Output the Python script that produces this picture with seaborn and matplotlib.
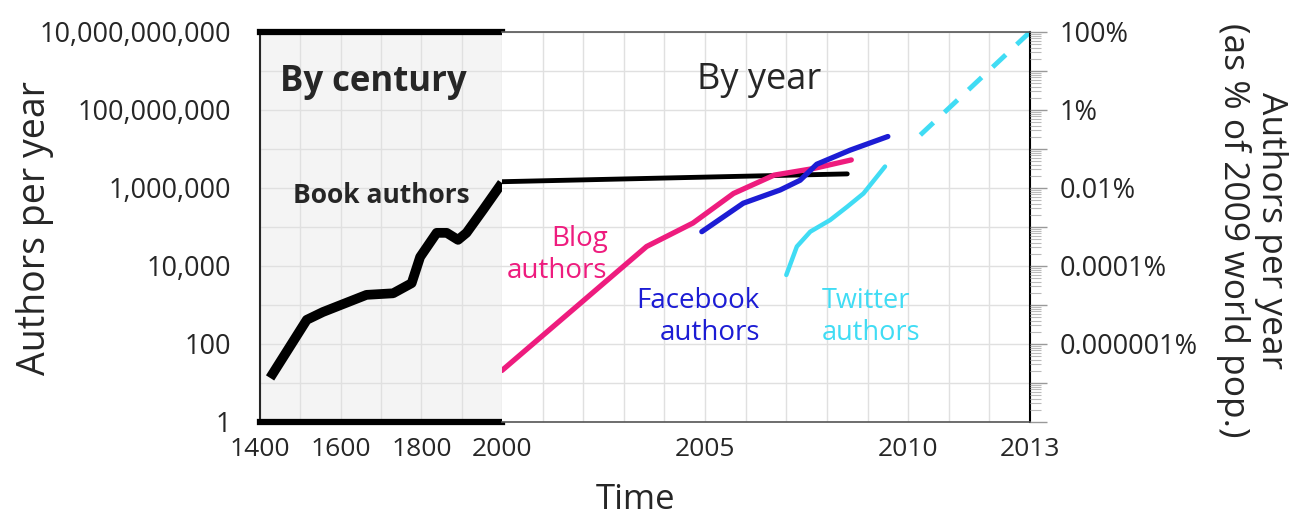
import numpy as np
import pandas as pd
import seaborn as sns
import matplotlib
matplotlib.use("Agg")
import matplotlib.pyplot as plt
from matplotlib.ticker import LogLocator, FuncFormatter, NullFormatter

# book authors, by century (left panel)
book_century_years = [1425, 1516, 1556, 1664, 1730, 1776, 1797, 1838, 1863, 1891, 1912, 1953, 2000]
book_century_vals = [13.5, 417, 661, 1820, 1995, 3630, 17000, 70800, 70800, 46800, 70800, 275000, 1350000]

# by year (right panel)
book_years = [2000, 2008.5]
book_vals = [1.45e6, 2.3e6]

blog_years = [2000.0, 2003.56, 2004.7, 2005.7, 2006.7, 2007.67, 2008.6]
blog_vals = [21, 31600, 126000, 724000, 2.14e6, 3.16e6, 5.25e6]

facebook_years = [2004.92, 2005.94, 2006.85, 2007.34, 2007.75, 2008.57, 2009.5]
facebook_vals = [75900, 407000, 891000, 1.58e6, 4.07e6, 9.33e6, 2.09e7]

twitter_years = [2007.0, 2007.26, 2007.59, 2008.08, 2008.5, 2008.9, 2009.23, 2009.43]
twitter_vals = [5890, 31600, 75900, 151000, 331000, 724000, 1.95e6, 3.55e6]

twitter_proj_years = [2010.3, 2013]
twitter_proj_vals = [2.29e7, 1e10]

left_xticks = [1400, 1500, 1600, 1700, 1800, 1900, 2000]
left_xlabels = ["1400", "", "1600", "", "1800", "", "2000"]
right_xticks = list(range(2001, 2014))
right_xlabels = ["2005" if y == 2005 else "2010" if y == 2010 else "2013" if y == 2013 else "" for y in right_xticks]
pct_ticks = [100, 1, 0.01, 1e-4, 1e-6]
pct_labels = ["100%", "1%", "0.01%", "0.0001%", "0.000001%"]

PINK = "#ee1c7e"
BLUE = "#1c1cd4"
CYAN = "#40dcf4"
GRID = "#e0e0e0"

sns.set_theme(style="white")
plt.rcParams["font.family"] = ["Open Sans", "DejaVu Sans"]

fig, (axl, axr) = plt.subplots(1, 2, sharey=True, figsize=(12.91, 5.2), dpi=100,
                               gridspec_kw={"width_ratios": [242, 528]})
fig.subplots_adjust(left=260 / 1291, right=1030 / 1291, bottom=98 / 520, top=488 / 520, wspace=0)

for ax in (axl, axr):
    ax.set_yscale("log")
    ax.set_ylim(1, 1e10)
    ax.grid(True, which="major", color=GRID, lw=1)
    ax.set_axisbelow(True)

axl.set_facecolor("#f4f4f4")
axl.set_xlim(1400, 2000)
axr.set_xlim(2000, 2013)

# lines
df = pd.DataFrame({"year": book_century_years, "authors": book_century_vals})
sns.lineplot(data=df, x="year", y="authors", ax=axl, color="black", lw=7,
             solid_capstyle="butt", solid_joinstyle="round")

sns.lineplot(x=book_years, y=book_vals, ax=axr, color="black", lw=3.5)
sns.lineplot(x=blog_years, y=blog_vals, ax=axr, color=PINK, lw=3.8)
sns.lineplot(x=facebook_years, y=facebook_vals, ax=axr, color=BLUE, lw=3.8)
sns.lineplot(x=twitter_years, y=twitter_vals, ax=axr, color=CYAN, lw=3.2)
sns.lineplot(x=twitter_proj_years, y=twitter_proj_vals, ax=axr, color=CYAN, lw=3.5,
             dashes=False, linestyle=(0, (3.7, 3.1)))

# y axis (left)
axl.yaxis.set_major_locator(LogLocator(base=10, numticks=20))
axl.yaxis.set_minor_locator(LogLocator(base=10, subs=np.arange(2, 10), numticks=100))
axl.yaxis.set_major_formatter(FuncFormatter(
    lambda v, p: f"{int(round(v)):,}" if round(np.log10(v)) % 2 == 0 else ""))
axl.yaxis.set_minor_formatter(NullFormatter())
axl.tick_params(axis="y", which="major", length=12, width=1, color="#999999", labelsize=19.5, pad=9)
axl.tick_params(axis="y", which="minor", length=8, width=0.8, color="#bbbbbb")
axr.tick_params(axis="y", which="both", left=False, length=0)

# x axes
axl.set_xticks(left_xticks, left_xlabels)
axr.set_xticks(right_xticks, right_xlabels)
for ax in (axl, axr):
    ax.tick_params(axis="x", length=0, labelsize=19, pad=11)
    ax.set_xlabel("")
    ax.set_ylabel("")

# spines
axl.spines["top"].set_linewidth(4.5)
axl.spines["bottom"].set_linewidth(4.5)
axl.spines["left"].set_linewidth(1.5)
axl.spines["right"].set_visible(False)
for s in ("top", "bottom"):
    axl.spines[s].set_color("black")
    axr.spines[s].set_color("#555555")
    axr.spines[s].set_linewidth(1.2)
axr.spines["left"].set_visible(False)
axr.spines["right"].set_color("black")
axr.spines["right"].set_linewidth(1.5)

# right percentage axis
axp = axr.twinx()
axp.set_yscale("log")
axp.set_ylim(1e-8, 100)
axp.yaxis.set_major_locator(LogLocator(base=10, numticks=20))
axp.yaxis.set_minor_locator(LogLocator(base=10, subs=np.arange(2, 10), numticks=100))
axp.yaxis.set_minor_formatter(NullFormatter())
lab = dict(zip(pct_ticks, pct_labels))
axp.yaxis.set_major_formatter(FuncFormatter(
    lambda v, p: next((l for t, l in lab.items() if abs(np.log10(v) - np.log10(t)) < 0.01), "")))
axp.tick_params(axis="y", which="major", length=12, width=1, color="#999999", labelsize=19.5, pad=9)
axp.tick_params(axis="y", which="minor", length=8, width=0.8, color="#bbbbbb")
axp.grid(False)
for s in axp.spines.values():
    s.set_visible(False)

# annotations
axl.text(1450, 10 ** 8.72, "By century", fontsize=25, fontweight="bold", ha="left", va="center")
axl.text(1482, 10 ** 5.82, "Book authors", fontsize=19, fontweight="bold", ha="left", va="center")
axr.text(2004.8, 10 ** 8.77, "By year", fontsize=26, ha="left", va="center")
axr.text(2002.6, 10 ** 4.28, "Blog\nauthors", fontsize=20, color=PINK, ha="right", va="center",
         multialignment="right")
axr.text(2006.35, 10 ** 2.69, "Facebook\nauthors", fontsize=20, color=BLUE, ha="right", va="center",
         multialignment="right")
axr.text(2007.88, 10 ** 2.69, "Twitter\nauthors", fontsize=19.5, color=CYAN, ha="left", va="center",
         multialignment="left")

fig.text(35 / 1291, 1 - 228 / 520, "Authors per year", rotation=90, fontsize=27, ha="center", va="center")
fig.text(636 / 1291, 1 - 500 / 520, "Time", fontsize=25, ha="center", va="center")
fig.text(1252 / 1291, 1 - 230 / 520, "Authors per year\n(as % of 2009 world pop.)", rotation=270,
         fontsize=25.5, ha="center", va="center", multialignment="center", linespacing=1.1)

fig.savefig("out.png", dpi=100)
